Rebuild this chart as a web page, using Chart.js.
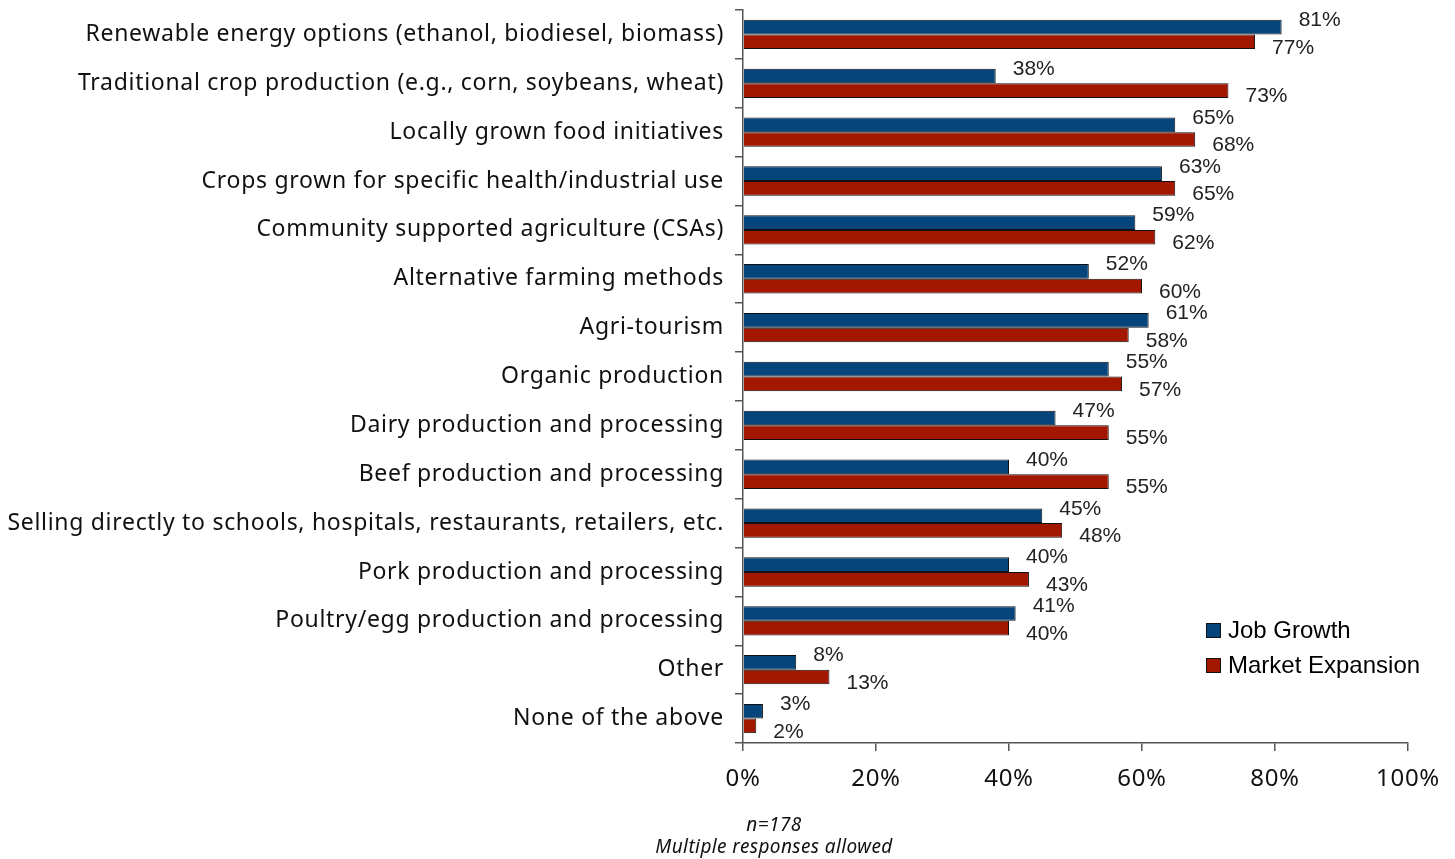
<!DOCTYPE html>
<html>
<head>
<meta charset="utf-8">
<script src="https://cdn.jsdelivr.net/npm/chart.js@4/dist/chart.umd.min.js"></script>
<style>
  html, body { margin: 0; padding: 0; background: #fff; }
  #wrap { width: 1455px; height: 859px; position: relative; }
</style>
</head>
<body>
<div id="wrap"><canvas id="c" width="1455" height="859"></canvas></div>
<script>
const categories = [
  "Renewable energy options (ethanol, biodiesel, biomass)",
  "Traditional crop production (e.g., corn, soybeans, wheat)",
  "Locally grown food initiatives",
  "Crops grown for specific health/industrial use",
  "Community supported agriculture (CSAs)",
  "Alternative farming methods",
  "Agri-tourism",
  "Organic production",
  "Dairy production and processing",
  "Beef production and processing",
  "Selling directly to schools, hospitals, restaurants, retailers, etc.",
  "Pork production and processing",
  "Poultry/egg production and processing",
  "Other",
  "None of the above"
];
const jobGrowth = [81, 38, 65, 63, 59, 52, 61, 55, 47, 40, 45, 40, 41, 8, 3];
const marketExpansion = [77, 73, 68, 65, 62, 60, 58, 57, 55, 55, 48, 43, 40, 13, 2];
const xTicks = [0, 20, 40, 60, 80, 100];
const seriesNames = ["Job Growth", "Market Expansion"];
const footerLines = ["n=178", "Multiple responses allowed"];

const BLUE = '#05457C';
const RED = '#A31600';
const AXIS = '#555555';
const LABEL_FONT = '"Noto Sans", "Open Sans", sans-serif';

const spacing = {
  id: 'spacing',
  beforeDraw(chart) { chart.ctx.letterSpacing = '0.7px'; }
};

const valueLabels = {
  id: 'valueLabels',
  afterDatasetsDraw(chart) {
    const ctx = chart.ctx;
    ctx.save();
    ctx.letterSpacing = '0px';
    ctx.font = '21px "Liberation Sans", Arial, sans-serif';
    ctx.fillStyle = '#222';
    ctx.textAlign = 'left';
    ctx.textBaseline = 'middle';
    chart.data.datasets.forEach((ds, di) => {
      const meta = chart.getDatasetMeta(di);
      meta.data.forEach((bar, i) => {
        const dy = di === 0 ? -7 : 6;
        ctx.fillText(ds.data[i] + '%', bar.x + 17, bar.y + dy);
      });
    });
    ctx.restore();
  }
};

const customLegend = {
  id: 'customLegend',
  afterDraw(chart) {
    const ctx = chart.ctx;
    ctx.save();
    ctx.letterSpacing = '0px';
    const x0 = 1206, ys = [630, 665];
    chart.data.datasets.forEach((ds, di) => {
      const y = ys[di];
      ctx.fillStyle = ds.backgroundColor;
      ctx.fillRect(x0, y - 7, 14, 14);
      ctx.strokeStyle = '#111';
      ctx.lineWidth = 1;
      ctx.strokeRect(x0 + 0.5, y - 6.5, 14, 14);
      ctx.fillStyle = '#000';
      ctx.font = '24px "Liberation Sans", Arial, sans-serif';
      ctx.textAlign = 'left';
      ctx.textBaseline = 'middle';
      ctx.fillText(ds.label, x0 + 22, y + 1);
    });
    ctx.restore();
  }
};

const footer = {
  id: 'footer',
  afterDraw(chart) {
    const ctx = chart.ctx;
    ctx.save();
    ctx.letterSpacing = '0.4px';
    ctx.fillStyle = '#111';
    ctx.font = 'italic 19px "Noto Sans", "Open Sans", sans-serif';
    ctx.textAlign = 'center';
    ctx.textBaseline = 'middle';
    ctx.fillText(footerLines[0], 774, 826);
    ctx.fillText(footerLines[1], 774, 848);
    ctx.restore();
  }
};

new Chart(document.getElementById('c'), {
  type: 'bar',
  data: {
    labels: categories,
    datasets: [
      { label: seriesNames[0], data: jobGrowth, backgroundColor: BLUE, borderColor: '#111', borderWidth: 1 },
      { label: seriesNames[1], data: marketExpansion, backgroundColor: RED, borderColor: '#111', borderWidth: 1 }
    ]
  },
  options: {
    indexAxis: 'y',
    responsive: false,
    animation: false,
    devicePixelRatio: 1,
    layout: { padding: { top: 10, right: 47, bottom: 0, left: 0 } },
    datasets: { bar: { categoryPercentage: 0.6, barPercentage: 1.0 } },
    plugins: {
      legend: { display: false },
      tooltip: { enabled: false },
      title: { display: false }
    },
    scales: {
      x: {
        min: 0, max: 100,
        afterBuildTicks(scale) { scale.ticks = xTicks.map(v => ({ value: v })); },
        afterFit(scale) { scale.height = 116; scale.paddingLeft = 0; scale.paddingRight = 0; },
        ticks: {
          callback: v => v + '%',
          color: '#111',
          font: { family: LABEL_FONT, size: 24 },
          padding: 14,
          maxRotation: 0
        },
        grid: { drawOnChartArea: false, tickLength: 8, color: AXIS, lineWidth: 1.5 },
        border: { display: true, color: AXIS, width: 1.5 }
      },
      y: {
        afterFit(scale) { scale.width = 743; scale.paddingTop = 0; scale.paddingBottom = 0; },
        ticks: {
          color: '#111',
          font: { family: LABEL_FONT, size: 23 },
          padding: 11,
          autoSkip: false
        },
        grid: { offset: true, drawOnChartArea: false, tickLength: 8, color: AXIS, lineWidth: 1.5 },
        border: { display: true, color: AXIS, width: 1.5 }
      }
    }
  },
  plugins: [spacing, valueLabels, customLegend, footer]
});
</script>
</body>
</html>
